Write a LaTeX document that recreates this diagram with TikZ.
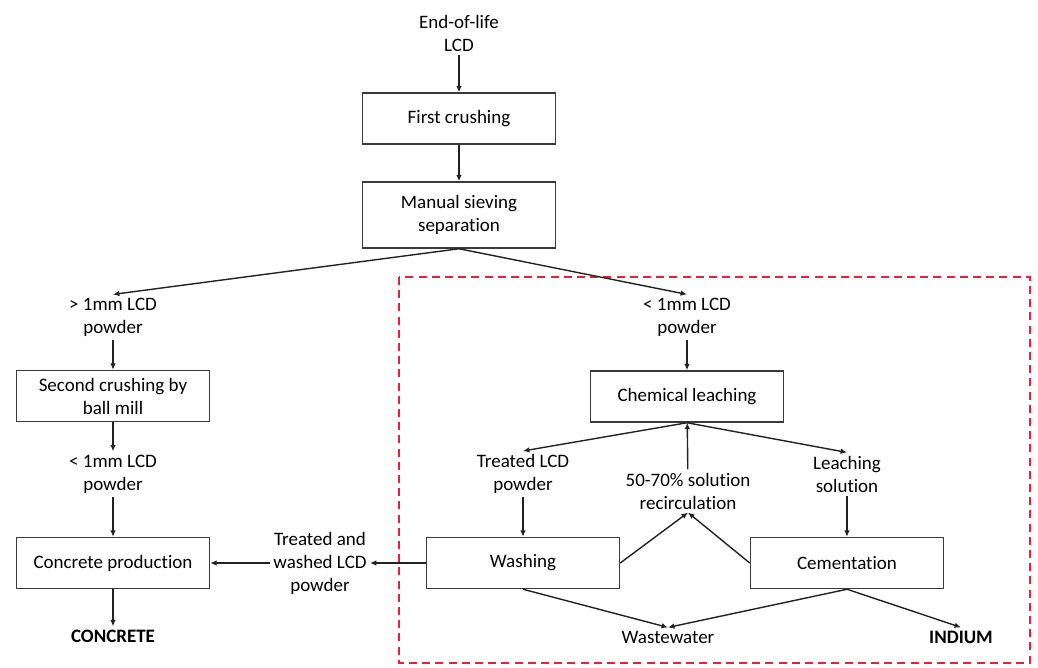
\documentclass[tikz,border=0pt]{standalone}
\usepackage{fontspec}
\setmainfont[Ligatures=CommonOff]{Carlito}
\usetikzlibrary{arrows.meta}
\definecolor{neutral}{HTML}{222222}
\definecolor{boxline}{HTML}{3A3A3A}
\definecolor{scope}{HTML}{E8213A}
\tikzset{
  flowbox/.style={draw=boxline, line width=0.75pt, align=center,
    minimum width=96.5pt, minimum height=25.5pt, inner sep=1pt,
    font=\fontsize{9.5}{11.5}\selectfont},
  lbl/.style={align=center, inner sep=1.5pt, font=\fontsize{9.5}{11.5}\selectfont},
  outlbl/.style={lbl, font=\fontsize{9.5}{11.5}\selectfont\bfseries},
  arr/.style={-{Latex[length=3.2pt,width=2.8pt]}, line width=0.7pt, draw=neutral},
  scopebox/.style={draw=scope, line width=1pt, dash pattern=on 4pt off 2.6pt}
}
\begin{document}
\begin{tikzpicture}[x=0.5pt, y=-0.5pt]
    \useasboundingbox (0,0) rectangle (1038,668);
    % main line
    \node[lbl] (eol) at (459,33) {End-of-life\\LCD};
    \node[flowbox] (crush1) at (459,118.5) {First crushing};
    \node[flowbox, minimum height=33pt] (sieve) at (459,215) {Manual sieving\\separation};
    % left branch
    \node[lbl] (coarse) at (113,317) {> 1mm LCD\\powder};
    \node[flowbox] (crush2) at (113,396) {Second crushing by\\ball mill};
    \node[lbl] (fine2) at (113,474) {< 1mm LCD\\powder};
    \node[flowbox] (concr) at (113,563) {Concrete production};
    \node[outlbl] (concrete) at (113,636) {CONCRETE};
    \node[lbl] (washed) at (320,563) {Treated and\\washed LCD\\powder};
    % right branch
    \node[lbl] (fine) at (687,317) {< 1mm LCD\\powder};
    \node[flowbox] (leach) at (687,396.5) {Chemical leaching};
    \node[lbl] (treated) at (523,474) {Treated LCD\\powder};
    \node[lbl] (recirc) at (688,491) {50-70\% solution\\recirculation};
    \node[lbl] (lsol) at (847,474) {Leaching\\solution};
    \node[flowbox] (wash) at (523,563) {Washing};
    \node[flowbox] (cem) at (847,563) {Cementation};
    \node[lbl] (waste) at (668,637) {Wastewater};
    \node[outlbl] (indium) at (961,637) {INDIUM};
    % indium recovery
    \draw[scopebox] (399,277) rectangle (1030,663);

    \draw[arr] (eol) -- (crush1);
    \draw[arr] (crush1) -- (sieve);
    \draw[arr] (sieve.south) -- (coarse.north);
    \draw[arr] (sieve.south) -- (fine.north);
    \draw[arr] (coarse) -- (crush2);
    \draw[arr] (crush2) -- (fine2);
    \draw[arr] (fine2) -- (concr);
    \draw[arr] (concr) -- (concrete);
    \draw[arr] (washed) -- (concr);
    \draw[arr] (wash) -- (washed);
    \draw[arr] (fine) -- (leach);
    \draw[arr] (leach.south) -- (treated.north);
    \draw[arr] (leach.south) -- (lsol.north);
    \draw[arr] (recirc) -- (leach);
    \draw[arr] (treated) -- (wash);
    \draw[arr] (lsol) -- (cem);
    \draw[arr] (wash.east) -- (recirc.south);
    \draw[arr] (cem.west) -- (recirc.south);
    \draw[arr] (wash.south) -- (waste.north);
    \draw[arr] (cem.south) -- (waste.north);
    \draw[arr] (cem.south) -- (indium.north);
  \end{tikzpicture}
\end{document}
